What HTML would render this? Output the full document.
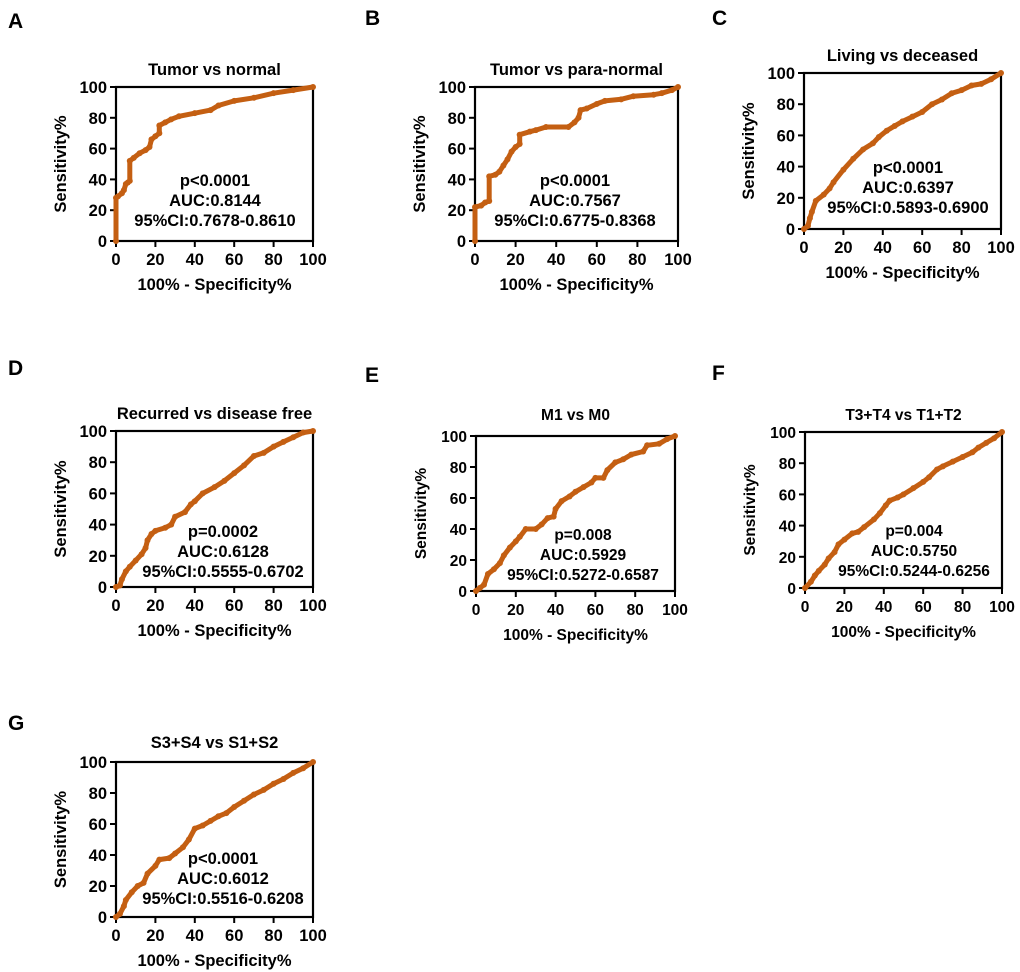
<!DOCTYPE html>
<html><head><meta charset="utf-8"><style>
body{margin:0;background:#fff;}
svg{display:block;font-family:"Liberation Sans",Arial,sans-serif;font-weight:bold;}
</style></head><body>
<svg id="fig" width="1020" height="972" viewBox="0 0 1020 972"></svg>
<script>
const ticks = [0,20,40,60,80,100];
const tickLabels = ["0","20","40","60","80","100"];
const curveA = [[0,0],[0,28],[1,29],[3,31],[4,33],[5,37],[6,38],[7,39],[7,52],[9,54],[12,57],[15,59],[17,61],[18,66],[20,68],[22,70],[22,75],[25,77],[28,79],[32,81],[40,83],[48,85],[52,88],[60,91],[70,93],[80,96],[90,98],[100,100]];
const curveB = [[0,0],[0,22],[3,23],[5,25],[7,26],[7,42],[10,43],[12,45],[14,49],[16,53],[18,58],[20,61],[22,63],[22,69],[27,71],[30,72],[35,74],[46,74],[49,77],[51,80],[52,85],[55,86],[60,89],[64,91],[72,92],[78,94],[88,95],[92,96],[97,98],[100,100]];
const curveC = [[0,0],[2,2],[3,7],[4,11],[6,18],[10,22],[13,26],[15,30],[20,38],[25,45],[30,51],[35,55],[38,59],[42,63],[46,66],[50,69],[55,72],[60,75],[65,80],[70,83],[75,87],[80,89],[85,92],[90,93],[95,96],[100,100]];
const curveD = [[0,0],[2,1],[3,5],[5,10],[7,13],[10,17],[13,21],[15,25],[16,30],[18,34],[20,36],[25,38],[28,40],[30,45],[35,48],[38,53],[40,55],[44,60],[50,64],[55,68],[60,73],[65,78],[70,84],[75,86],[80,90],[85,93],[90,96],[95,99],[100,100]];
const curveE = [[0,0],[2,2],[4,4],[6,11],[9,14],[12,18],[14,23],[17,28],[20,32],[22,35],[25,40],[30,40],[33,43],[36,47],[39,48],[40,53],[43,58],[47,61],[50,64],[54,67],[58,70],[60,73],[64,73],[66,78],[70,83],[74,85],[78,88],[84,90],[86,94],[92,95],[96,98],[100,100]];
const curveF = [[0,0],[3,4],[5,8],[7,11],[10,15],[12,19],[15,23],[17,28],[20,31],[24,35],[27,36],[30,39],[35,44],[38,48],[41,53],[43,56],[47,58],[50,60],[55,64],[60,68],[63,71],[67,76],[70,78],[75,81],[80,84],[85,87],[88,90],[92,93],[96,96],[100,100]];
const curveG = [[0,0],[2,2],[4,7],[5,11],[8,16],[11,20],[14,22],[16,28],[20,33],[22,37],[27,38],[30,41],[34,45],[37,50],[40,57],[44,59],[48,62],[52,65],[56,67],[60,71],[65,75],[70,79],[75,82],[80,86],[85,89],[90,93],[95,96],[100,100]];

const panels = [
 {id:'a',letter:'A',lx:8,ly:28,title:'Tumor vs normal',ty:75,x0:116,x1:313,y0:241,y1:87,tx:215,txy:186,lines:['p<0.0001','AUC:0.8144','95%CI:0.7678-0.8610'],data:curveA},
 {id:'b',letter:'B',lx:365,ly:25,title:'Tumor vs para-normal',ty:75,x0:475,x1:678,y0:241,y1:87,tx:575,txy:186,lines:['p<0.0001','AUC:0.7567','95%CI:0.6775-0.8368'],data:curveB},
 {id:'c',letter:'C',lx:712,ly:25,title:'Living vs deceased',ty:61,x0:804,x1:1001,y0:229,y1:73,tx:908,txy:173,lines:['p<0.0001','AUC:0.6397','95%CI:0.5893-0.6900'],data:curveC},
 {id:'d',letter:'D',lx:8,ly:375,title:'Recurred vs disease free',ty:419,x0:116,x1:313,y0:587,y1:431,tx:223,txy:537,lines:['p=0.0002','AUC:0.6128','95%CI:0.5555-0.6702'],data:curveD},
 {id:'e',letter:'E',lx:365,ly:382,title:'M1 vs M0',ty:420,x0:476,x1:675,y0:591,y1:436,tx:583,txy:540,lines:['p=0.008','AUC:0.5929','95%CI:0.5272-0.6587'],data:curveE,narrow:true},
 {id:'f',letter:'F',lx:712,ly:380,title:'T3+T4 vs T1+T2',ty:420,x0:805,x1:1002,y0:588,y1:432,tx:914,txy:536,lines:['p=0.004','AUC:0.5750','95%CI:0.5244-0.6256'],data:curveF,narrow:true},
 {id:'g',letter:'G',lx:8,ly:730,title:'S3+S4 vs S1+S2',ty:748,x0:116,x1:313,y0:917,y1:762,tx:223,txy:864,lines:['p<0.0001','AUC:0.6012','95%CI:0.5516-0.6208'],data:curveG}
];
const NS='http://www.w3.org/2000/svg';
const svg=document.getElementById('fig');
function mk(tag,attrs,parent,text){const e=document.createElementNS(NS,tag);for(const k in attrs)e.setAttribute(k,attrs[k]);if(text!==undefined)e.textContent=text;parent.appendChild(e);return e;}
const COL='#c45f12';
panels.forEach(p=>{
  const g=mk('g',{},svg);
  
  
  const sx=v=>p.x0+(p.x1-p.x0)*v/100;
  const sy=v=>p.y0-(p.y0-p.y1)*v/100;
  const fs=p.narrow?15.5:16.5;
  const lt=mk('text',{x:p.lx,y:p.ly,'font-size':21},g,p.letter);
  
  
  const tt=mk('text',{x:(p.x0+p.x1)/2,y:p.ty,'font-size':fs,'text-anchor':'middle'},g,p.title);
  
  
  const fr=mk('rect',{x:p.x0,y:p.y1,width:p.x1-p.x0,height:p.y0-p.y1,fill:'none',stroke:'#000','stroke-width':2.2},g);
  
  
  ticks.forEach((t,i)=>{
    mk('line',{x1:p.x0-6,x2:p.x0,y1:sy(t),y2:sy(t),stroke:'#000','stroke-width':2},g);
    mk('line',{x1:sx(t),x2:sx(t),y1:p.y0,y2:p.y0+6,stroke:'#000','stroke-width':2},g);
    const yl=mk('text',{x:p.x0-9,y:sy(t)+6,'font-size':fs,'text-anchor':'end'},g,tickLabels[i]);
    
    
    const xl=mk('text',{x:sx(t),y:p.y0+24,'font-size':fs,'text-anchor':'middle'},g,tickLabels[i]);
    
    
  });
  const xt=mk('text',{x:(p.x0+p.x1)/2,y:p.y0+49,'font-size':fs,'text-anchor':'middle'},g,'100% - Specificity%');
  
  
  const cy=(p.y0+p.y1)/2, cx=p.x0-50;
  const yt=mk('text',{x:cx,y:cy,'font-size':fs,'text-anchor':'middle',transform:`rotate(-90 ${cx} ${cy})`},g,'Sensitivity%');
  
  
  const pts=p.data.map(d=>sx(d[0]).toFixed(1)+','+sy(d[1]).toFixed(1)).join(' ');
  const pl=mk('polyline',{points:pts,fill:'none',stroke:COL,'stroke-width':5,'stroke-linejoin':'round','stroke-linecap':'round'},g);
  
  
  p.data.forEach(d=>{
    const c=mk('circle',{cx:sx(d[0]),cy:sy(d[1]),r:3,fill:COL},g);
    
    
  });
  p.lines.forEach((s,i)=>{
    const t=mk('text',{x:p.tx,y:p.txy+i*20,'font-size':fs,'text-anchor':'middle'},g,s);
    
    
  });
});
</script>
</body></html>
